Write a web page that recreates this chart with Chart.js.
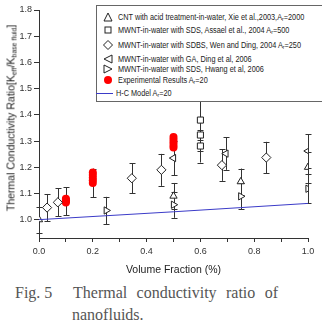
<!DOCTYPE html>
<html>
<head>
<meta charset="utf-8">
<script src="https://cdn.jsdelivr.net/npm/chart.js@4.4.1/dist/chart.umd.min.js"></script>
<style>
  body { margin: 0; width: 322px; height: 324px; overflow: hidden; background: #fff; position: relative; font-family: "Liberation Sans", Arial, sans-serif; }
  #chart { position: absolute; left: 0; top: 0; }
  #ytitle { position: absolute; left: 11px; top: 118px; transform: translate(-50%, -50%) rotate(-90deg); white-space: nowrap; font-size: 10.5px; color: #222; }
  #ytitle sub { font-size: 7px; vertical-align: -2px; }
  #legend { position: absolute; left: 96px; top: 5px; width: 240px; height: 97px; border: 1px solid #666; background: #fff; box-sizing: border-box; }
  .row { position: absolute; left: 0; height: 12px; white-space: nowrap; font-size: 8.5px; color: #222; }
  .row svg { position: absolute; left: 5px; top: 0; }
  .row span { position: absolute; left: 21px; top: 0; line-height: 12px; transform: scaleX(0.86); transform-origin: 0 50%; }
  .row sub { font-size: 6px; vertical-align: -1px; }
  .cap { position: absolute; font-family: "Liberation Serif", "Times New Roman", serif; font-size: 16px; color: #555; white-space: nowrap; line-height: 20px; }
</style>
</head>
<body>
<canvas id="chart" width="322" height="280"></canvas>
<div id="ytitle">Thermal Conductivity Ratio[K<sub>eff</sub>/K<sub>base fluid</sub>]</div>
<div id="legend">
  <div class="row" style="top:5px"><svg width="12" height="12"><polygon points="6,2 10,10 2,10" fill="#fff" stroke="#222"/></svg><span>CNT with acid treatment-in-water, Xie et al.,2003,A<sub>r</sub>=2000</span></div>
  <div class="row" style="top:18px"><svg width="12" height="12"><rect x="3" y="3" width="6" height="6" fill="#fff" stroke="#222"/></svg><span>MWNT-in-water with SDS, Assael et al., 2004 A<sub>r</sub>=500</span></div>
  <div class="row" style="top:33px"><svg width="12" height="12"><polygon points="6,1.5 10.5,6 6,10.5 1.5,6" fill="#fff" stroke="#222"/></svg><span>MWNT-in-water with SDBS, Wen and Ding, 2004 A<sub>r</sub>=250</span></div>
  <div class="row" style="top:47px"><svg width="12" height="12"><polygon points="2,6 10,2 10,10" fill="#fff" stroke="#222"/></svg><span>MWNT-in-water with GA, Ding et al, 2006</span></div>
  <div class="row" style="top:57px"><svg width="12" height="12"><polygon points="10,6 2,2 2,10" fill="#fff" stroke="#222"/></svg><span>MWNT-in-water with SDS, Hwang et al, 2006</span></div>
  <div class="row" style="top:68px"><svg width="12" height="12"><circle cx="6" cy="6" r="4" fill="#f00"/></svg><span>Experimental Results A<sub>r</sub>=20</span></div>
  <div class="row" style="top:81px"><svg width="18" height="12" style="left:-1px"><line x1="0" y1="6.5" x2="17" y2="6.5" stroke="#3b3bc8" stroke-width="1"/></svg><span style="left:19px">H-C Model A<sub>r</sub>=20</span></div>
</div>
<div class="cap" style="left:15px; top:283px">Fig. 5</div>
<div class="cap" style="left:73px; top:283px; width:205px; text-align:justify; text-align-last:justify">Thermal conductivity ratio of</div>
<div class="cap" style="left:72px; top:305px">nanofluids.</div>
<script>
// values (volume fraction %, conductivity ratio, error)
const xieX = [0, 0.5, 0.75, 1.0];
const xieY = [1.0, 1.09, 1.145, 1.2];
const xieErr = [0.05, 0.05, 0.05, 0.06];

const assaelX = [0.6, 0.6, 0.6];
const assaelY = [1.38, 1.323, 1.281];
const assaelErr = [0.075, 0.06, 0.063];

const wenX = [0.03, 0.07, 0.345, 0.455, 0.68, 0.845];
const wenY = [1.046, 1.066, 1.158, 1.19, 1.208, 1.237];
const wenErr = [0.052, 0.053, 0.057, 0.061, 0.06, 0.06];

const dingX = [0.5, 0.695, 1.0];
const dingY = [1.235, 1.252, 1.262];
const dingErr = [0.065, 0.062, 0.064];

const hwangX = [0.25, 0.5, 0.75, 1.0];
const hwangY = [1.035, 1.057, 1.089, 1.118];
const hwangErr = [0.052, 0.05, 0.05, 0.055];

// repeated measurements overlap into the tall red blobs
const expX = [0.1, 0.1, 0.1, 0.1, 0.2, 0.2, 0.2, 0.2, 0.2, 0.5, 0.5, 0.5, 0.5, 0.5];
const expY = [1.065, 1.07, 1.075, 1.08, 1.14, 1.15, 1.16, 1.17, 1.18, 1.275, 1.285, 1.295, 1.305, 1.315];
const expErr = [0, 0.053, 0, 0, 0.055, 0, 0, 0, 0, 0, 0, 0, 0, 0];

const hcX = [0, 0.25, 0.5, 0.75, 1.0];
const hcY = [1.0, 1.015, 1.03, 1.046, 1.062];

const pts = (xs, ys) => xs.map((x, i) => ({ x: x, y: ys[i] }));

function marker(label, xs, ys, errs, style, rot, radius) {
    return {
        label: label,
        data: pts(xs, ys),
        errors: errs,
        pointStyle: style,
        rotation: rot,
        pointRadius: radius,
        pointBorderWidth: 1,
        pointBorderColor: '#222',
        pointBackgroundColor: '#fff'
    };
}

// simple error bars with caps, drawn under the markers
const errorBars = {
    id: 'errorBars',
    beforeDatasetsDraw(chart) {
        const ctx = chart.ctx;
        const xs = chart.scales.x, ys = chart.scales.y;
        ctx.save();
        ctx.strokeStyle = '#333';
        ctx.lineWidth = 1;
        chart.data.datasets.forEach(ds => {
            if (!ds.errors) return;
            ds.data.forEach((p, i) => {
                const e = ds.errors[i];
                if (!e) return;
                const px = Math.round(xs.getPixelForValue(p.x)) + 0.5;
                const top = ys.getPixelForValue(p.y + e);
                const bot = ys.getPixelForValue(p.y - e);
                ctx.beginPath();
                ctx.moveTo(px, top); ctx.lineTo(px, bot);
                ctx.moveTo(px - 3, Math.round(top) + 0.5); ctx.lineTo(px + 3, Math.round(top) + 0.5);
                ctx.moveTo(px - 3, Math.round(bot) + 0.5); ctx.lineTo(px + 3, Math.round(bot) + 0.5);
                ctx.stroke();
            });
        });
        ctx.restore();
    }
};

const axisFont = { family: '"Liberation Sans", Arial, sans-serif', size: 9 };

new Chart(document.getElementById('chart'), {
    type: 'scatter',
    data: {
        datasets: [
            {
                label: 'H-C Model',
                data: pts(hcX, hcY),
                showLine: true,
                borderColor: '#3b3bc8',
                borderWidth: 1,
                pointRadius: 0,
                order: 0
            },
            marker('Xie', xieX, xieY, xieErr, 'triangle', 0, 4.2),
            marker('Assael', assaelX, assaelY, assaelErr, 'rect', 0, 4.3),
            marker('Wen', wenX, wenY, wenErr, 'rectRot', 0, 4.6),
            marker('Ding', dingX, dingY, dingErr, 'triangle', -90, 4.2),
            marker('Hwang', hwangX, hwangY, hwangErr, 'triangle', 90, 4.2),
            {
                label: 'Experimental',
                data: pts(expX, expY),
                errors: expErr,
                pointStyle: 'circle',
                pointRadius: 4,
                pointBorderWidth: 0,
                pointBackgroundColor: '#f00'
            }
        ]
    },
    options: {
        responsive: false,
        animation: false,
        devicePixelRatio: 1,
        layout: { padding: { top: 10, right: 14, left: 0, bottom: 0 } },
        plugins: { legend: { display: false }, tooltip: { enabled: false } },
        scales: {
            x: {
                type: 'linear',
                min: 0,
                max: 1.0,
                afterFit: s => { s.height = 42; },
                border: { color: '#333' },
                grid: { drawOnChartArea: false, color: '#333', tickLength: 4 },
                ticks: {
                    stepSize: 0.1,
                    autoSkip: false,
                    maxRotation: 0,
                    padding: 4,
                    color: '#333',
                    font: axisFont,
                    callback: v => (Math.round(v * 10) % 2 === 0 ? v.toFixed(1) : '')
                },
                title: {
                    display: true,
                    text: 'Volume Fraction (%)',
                    color: '#222',
                    font: { family: '"Liberation Sans", Arial, sans-serif', size: 10.5 },
                    padding: { top: 0, bottom: 4 }
                }
            },
            y: {
                min: 0.93,
                max: 1.8,
                afterFit: s => { s.width = 39; },
                border: { color: '#333' },
                grid: { drawOnChartArea: false, color: '#333', tickLength: 5 },
                ticks: {
                    stepSize: 0.1,
                    includeBounds: false,
                    padding: 2,
                    color: '#333',
                    font: axisFont,
                    callback: v => v.toFixed(1)
                }
            }
        }
    },
    plugins: [errorBars]
});
</script>
</body>
</html>
